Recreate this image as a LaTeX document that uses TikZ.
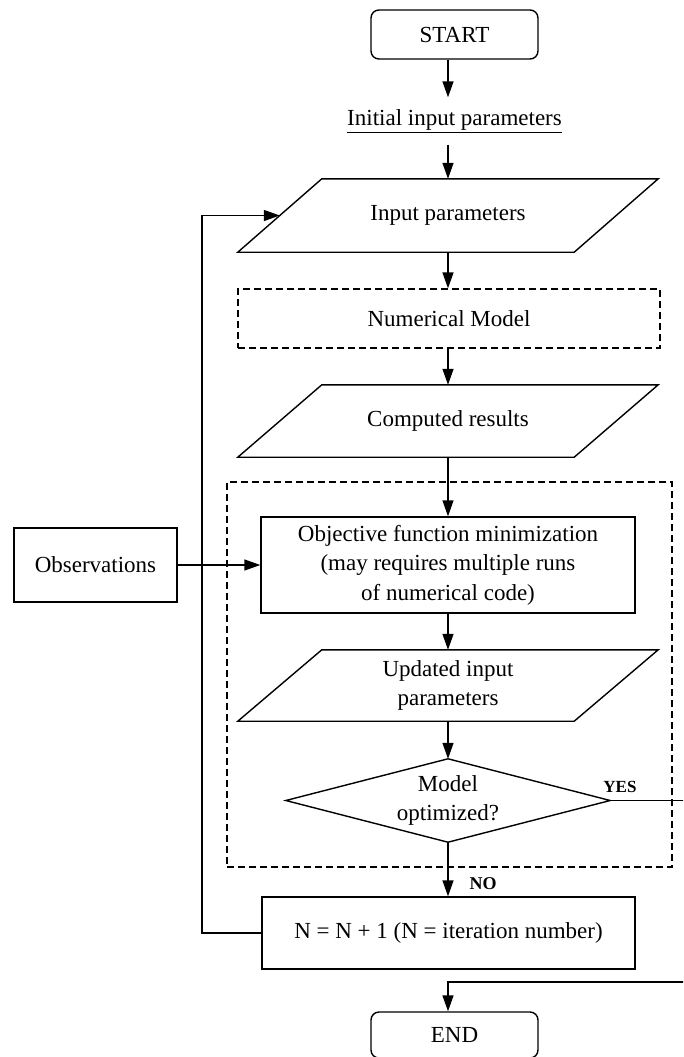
\documentclass[tikz,border=0pt]{standalone}
\usepackage{fontspec}
\setmainfont{Liberation Serif}
\usetikzlibrary{arrows.meta,calc}
\begin{document}
\begin{tikzpicture}[x=1pt,y=-1pt,
  every node/.style={font=\fontsize{23}{29.5}\selectfont, inner sep=0pt, align=center},
  line/.style={line width=1.4pt, line join=miter},
  arr/.style={line/.style, line width=1.4pt, -{Triangle[length=16pt,width=11pt]}},
  box/.style={draw, line width=1.4pt, rectangle},
  rbox/.style={draw, line width=1.4pt, rectangle, rounded corners=8pt},
  dbox/.style={draw, line width=1.3pt, rectangle, dash pattern=on 7pt off 4pt},
  plain/.style={rectangle},
  lbl/.style={font=\fontsize{17}{20}\selectfont\bfseries}
]
\useasboundingbox (0,0) rectangle (683,1057);
\clip (0,0) rectangle (683,1057);
\coordinate (ax) at (448,0);

% nodes
\node[rbox, minimum width=167pt, minimum height=49pt] (start) at (454.5,34.5) {START};
\node[plain, minimum width=220pt, minimum height=47pt] (init) at (454.5,121) {\underline{Initial input parameters}};
\node[plain, minimum width=420pt, minimum height=73pt] (inp) at (448,215.5) {Input parameters};
\node[dbox, minimum width=422pt, minimum height=59pt] (num) at (449,318.5) {Numerical Model};
\node[plain, minimum width=420pt, minimum height=72pt] (comp) at (448,421) {Computed results};
\node[dbox, minimum width=445pt, minimum height=385pt] (grp) at (449.5,674.5) {};
\node[box, minimum width=374pt, minimum height=96pt] (obj) at (448,565) {Objective function minimization\\(may requires multiple runs\\of numerical code)};
\node[box, minimum width=163pt, minimum height=74pt] (obs) at (95.5,565) {Observations};
\node[plain, minimum width=420pt, minimum height=71pt] (upd) at (448,685.5) {Updated input\\parameters};
\node[plain, minimum width=324pt, minimum height=83pt] (dia) at (448,800.5) {Model\\optimized?};
\node[box, minimum width=373pt, minimum height=72pt] (nb) at (448.5,933) {N = N + 1 (N = iteration number)};
\node[rbox, minimum width=167pt, minimum height=46pt] (end) at (454.5,1035) {END};
\node[lbl] (yes) at (620,787) {YES};
\node[lbl, font=\fontsize{18}{20}\selectfont\bfseries] (no) at (483,884) {NO};

% parallelograms and diamond
\draw[line] ([xshift=84pt]inp.north west) -- (inp.north east) -- ([xshift=-84pt]inp.south east) -- (inp.south west) -- cycle;
\draw[line] ([xshift=84pt]comp.north west) -- (comp.north east) -- ([xshift=-84pt]comp.south east) -- (comp.south west) -- cycle;
\draw[line] ([xshift=84pt]upd.north west) -- (upd.north east) -- ([xshift=-84pt]upd.south east) -- (upd.south west) -- cycle;
\draw[line] (dia.west) -- (dia.north) -- (dia.east) -- (dia.south) -- cycle;

% connectors
\draw[arr] (start.south -| ax) -- (init.north -| ax);
\draw[arr] (init.south -| ax) -- (inp.north -| ax);
\draw[arr] (inp.south -| ax) -- (num.north -| ax);
\draw[arr] (num.south -| ax) -- (comp.north -| ax);
\draw[arr] (comp.south -| ax) -- (obj.north -| ax);
\draw[arr] (obj.south -| ax) -- (upd.north -| ax);
\draw[arr] (upd.south -| ax) -- (dia.north -| ax);
\draw[arr] (dia.south -| ax) -- (nb.north -| ax);
\draw[arr] (obs.east) -- (obj.west);
\coordinate (fbx) at (202,0);
\coordinate (inpleft) at ($([xshift=84pt]inp.north west)!0.5!(inp.south west)$);
\draw[arr] (nb.west) -- (nb.west -| fbx) -- (inpleft -| fbx) -- (inpleft);
\coordinate (rx) at (695,0);
\coordinate (ry) at (0,982);
\draw[arr] (dia.east) -- (dia.east -| rx) -- (ry -| rx) -- (ry -| ax) -- (end.north -| ax);
\end{tikzpicture}
\end{document}
